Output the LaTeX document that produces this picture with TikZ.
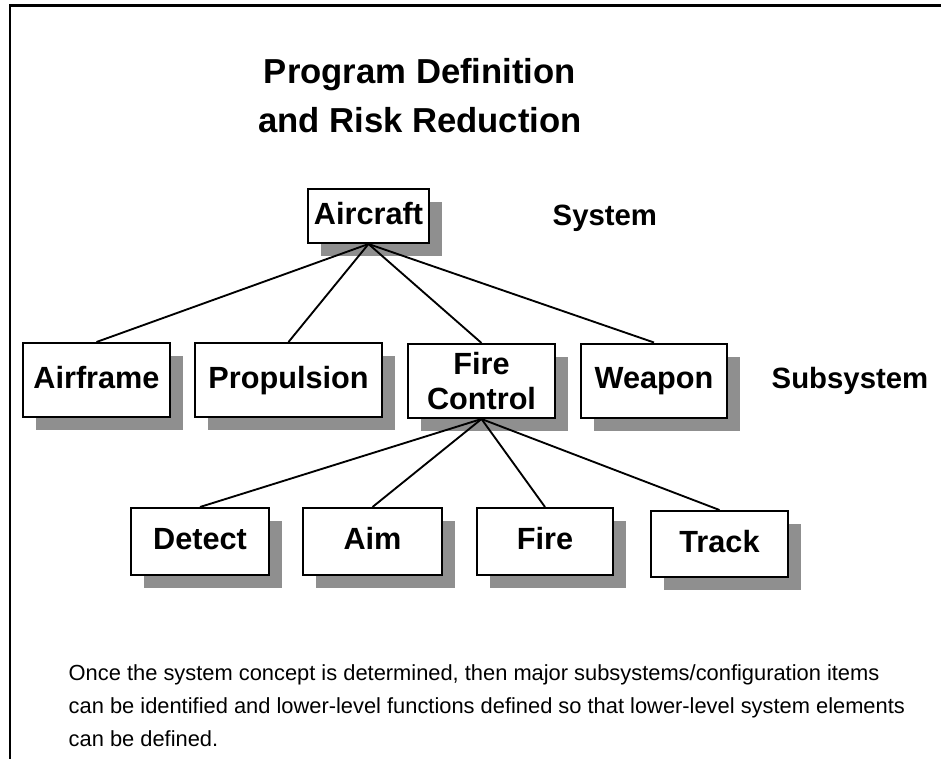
\documentclass[tikz,border=0pt]{standalone}
\usepackage{fontspec}
\setmainfont{Liberation Sans}
\usetikzlibrary{positioning,shadows}
\definecolor{ink}{HTML}{000000}
\definecolor{shade}{HTML}{8F8F8F}

\begin{document}
\begin{tikzpicture}[x=0.75pt,y=0.75pt,
  box/.style={draw=ink, fill=white, line width=1.5pt, inner sep=0pt, align=center,
    text height=16.5pt, text depth=4.5pt,
    font=\fontsize{23}{26.25}\selectfont\bfseries,
    drop shadow={shadow xshift=9.75pt, shadow yshift=-9.75pt, fill=shade, opacity=1}},
  link/.style={draw=ink, line width=1.4pt},
  level/.style={anchor=west, font=\fontsize{22}{26}\selectfont\bfseries}]
\useasboundingbox (0,0) rectangle (941,-759);
\draw[line width=2pt] (10,-759) -- (10,-5.5) -- (941,-5.5);
\node[font=\fontsize{26}{36.75}\selectfont\bfseries, align=center] (title) at (420,-96) {Program Definition\\and Risk Reduction};
\node[box, minimum width=90.75pt, minimum height=40.5pt] (aircraft) at (368.5,-216) {Aircraft};
\node[box, minimum width=110.25pt, minimum height=55.5pt] (airframe) at (96.5,-380) {Airframe};
\node[box, minimum width=140.25pt, minimum height=55.5pt] (propulsion) at (288.5,-380) {Propulsion};
\node[box, text height=, text depth=, minimum width=110.25pt, minimum height=55.5pt] (firecontrol) at (481.5,-381) {Fire\\Control};
\node[box, minimum width=109.5pt, minimum height=55.5pt] (weapon) at (654,-380.5) {Weapon};
\node[box, minimum width=103.5pt, minimum height=50.25pt] (detect) at (200,-541.5) {Detect};
\node[box, minimum width=104.25pt, minimum height=50.25pt] (aim) at (372.5,-541.5) {Aim};
\node[box, minimum width=102pt, minimum height=50.25pt] (fire) at (545,-541.5) {Fire};
\node[box, minimum width=102.75pt, minimum height=49.5pt] (track) at (719.5,-544) {Track};
\node[level] (system) at (548,-218) {System};
\node[level] (subsystem) at (767,-381) {Subsystem};
\draw[link] (aircraft.south) -- (airframe.north);
\draw[link] (aircraft.south) -- (propulsion.north);
\draw[link] (aircraft.south) -- (firecontrol.north);
\draw[link] (aircraft.south) -- (weapon.north);
\draw[link] (firecontrol.south) -- (detect.north);
\draw[link] (firecontrol.south) -- (aim.north);
\draw[link] (firecontrol.south) -- (fire.north);
\draw[link] (firecontrol.south) -- (track.north);
\node[anchor=base west, align=left, font=\fontsize{16.4}{24.75}\selectfont] (note) at (64,-746) {Once the system concept is determined, then major subsystems/configuration items\\can be identified and lower-level functions defined so that lower-level system elements\\can be defined.};
\end{tikzpicture}
\end{document}
